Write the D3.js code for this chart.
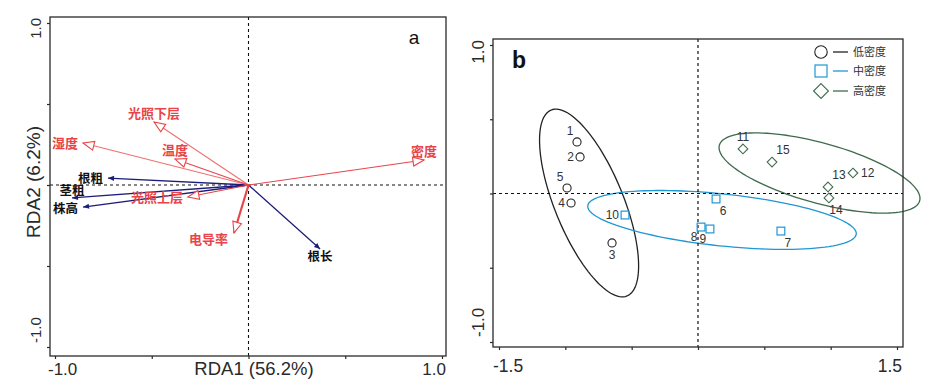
<!DOCTYPE html>
<html><head><meta charset="utf-8">
<script src="https://cdn.jsdelivr.net/npm/d3@7"></script>
<style>body{margin:0;background:#fff;} svg{display:block;}</style>
</head><body>
<script>
// ---------- Panel a data (RDA biplot) ----------
const envVars  = ["密度","光照下层","湿度","温度","光照上层","电导率"];
const envX     = [0.907,-0.488,-0.855,-0.380,-0.313,-0.075];
const envY     = [0.154, 0.389, 0.259, 0.160,-0.074,-0.296];
const envSide  = ["n","n","w","n","w","sw"];
const traitVars = ["根粗","茎粗","株高","根长"];
const traitX    = [-0.726,-0.912,-0.855,0.370];
const traitY    = [ 0.043,-0.080,-0.136,-0.395];
const traitSide = ["w","c","wl","s"];
const axisTicksA = [-1,-0.5,0,0.5,1];
const axisLabelsA = ["-1.0","1.0"];
const xTitleA = "RDA1 (56.2%)";
const yTitleA = "RDA2 (6.2%)";

// ---------- Panel b data (sample scores) ----------
const sampleIds   = ["1","2","3","4","5","6","7","8","9","10","11","12","13","14","15"];
const sampleX     = [-0.912,-0.889,-0.648,-0.957,-0.987,0.136,0.625,0.023,0.090,-0.550,0.339,1.168,0.980,0.987,0.558];
const sampleY     = [0.347,0.246,-0.333,-0.064,0.037,-0.037,-0.253,-0.226,-0.239,-0.145,0.300,0.138,0.044,-0.030,0.212];
const sampleGroup = [0,0,0,0,0,1,1,1,1,1,2,2,2,2,2];
const sampleSide  = ["nw","w","s","w","nw","se","se","sw","sw","w","n","e","ne","se","ne"];
const groupNames  = ["低密度","中密度","高密度"];
const ellipseCX = [-0.821,0.181,0.916];
const ellipseCY = [-0.064,-0.178,0.138];
const ellipseUX = [-0.286,1.012,0.755];
const ellipseUY = [0.626,-0.095,-0.187];
const ellipseVX = [0.240,-0.020,-0.060];
const ellipseVY = [0.0875,-0.174,-0.195];
const xTicksB = [-1.5,-1,-0.5,0,0.5,1,1.5];
const yTicksB = [-1,-0.5,0,0.5,1];
const xLabelsB = ["-1.5","1.5"];
const yLabelsB = ["-1.0","1.0"];

// ---------- styles ----------
const LAT = "'Liberation Sans', Arial, sans-serif";
const CJK = "'Noto Sans CJK SC', sans-serif";
const RED = "#e8454a", REDL = "#f07070", NAVY = "#1d1d7a", AX = "#2a2a2a";
const groupColors = ["#222222","#1f97d4","#3f6b4c"];

const svg = d3.select("body").append("svg").attr("width",936).attr("height",392);

// ================= PANEL A =================
const gA = svg.append("g");
const xA = d3.scaleLinear().domain([-1,1]).range([55,442]);
const yA = d3.scaleLinear().domain([-1,1]).range([347,23]);
const frA = {l:50, r:446, t:17, b:356};

gA.append("line").attr("x1",xA(0)).attr("x2",xA(0)).attr("y1",frA.t).attr("y2",frA.b)
  .attr("stroke","#111").attr("stroke-dasharray","3,3").attr("stroke-width",1.1);
gA.append("line").attr("x1",frA.l).attr("x2",frA.r).attr("y1",yA(0)).attr("y2",yA(0))
  .attr("stroke","#111").attr("stroke-dasharray","3,3").attr("stroke-width",1.1);

function arrowHead(x0,y0,x1,y1,len,hw){
  const dx=x1-x0, dy=y1-y0, L=Math.hypot(dx,dy), ux=dx/L, uy=dy/L;
  const bx=x1-ux*len, by=y1-uy*len;
  return `M${x1},${y1}L${bx-uy*hw},${by+ux*hw}L${bx+uy*hw},${by-ux*hw}Z`;
}
function labelPos(side,x,y,fs){
  const b = fs*0.36;
  switch(side){
    case "n":  return {x:x, y:y-4, a:"middle"};
    case "c":  return {x:x, y:y-2.5, a:"middle"};
    case "s":  return {x:x, y:y+12, a:"middle"};
    case "w":  return {x:x-5, y:y+b, a:"end"};
    case "wl": return {x:x-5, y:y+b+1.5, a:"end"};
    case "sw": return {x:x-6, y:y+11, a:"end"};
  }
}

traitVars.forEach((v,i)=>{
  const x1=xA(traitX[i]), y1=yA(traitY[i]), x0=xA(0), y0=yA(0);
  gA.append("line").attr("x1",x0).attr("y1",y0).attr("x2",x1).attr("y2",y1)
    .attr("stroke",NAVY).attr("stroke-width",1.3);
  gA.append("path").attr("d",arrowHead(x0,y0,x1,y1,6,2.6)).attr("fill",NAVY);
});
envVars.forEach((v,i)=>{
  const x1=xA(envX[i]), y1=yA(envY[i]), x0=xA(0), y0=yA(0);
  const w = v==="电导率" ? 2.2 : 1.1;
  gA.append("line").attr("x1",x0).attr("y1",y0).attr("x2",x1).attr("y2",y1)
    .attr("stroke", v==="光照下层"||v==="湿度" ? REDL : RED).attr("stroke-width",w);
  gA.append("path").attr("d",arrowHead(x0,y0,x1,y1,11,4.5))
    .attr("fill","#fff").attr("stroke",RED).attr("stroke-width",1.1);
});
envVars.forEach((v,i)=>{
  const p=labelPos(envSide[i],xA(envX[i]),yA(envY[i]),13);
  gA.append("text").attr("x",p.x).attr("y",p.y).attr("text-anchor",p.a)
    .attr("font-family",CJK).attr("font-weight","bold").attr("font-size",13)
    .attr("fill",RED).text(v);
});
traitVars.forEach((v,i)=>{
  const p=labelPos(traitSide[i],xA(traitX[i]),yA(traitY[i]),12.5);
  gA.append("text").attr("x",p.x).attr("y",p.y).attr("text-anchor",p.a)
    .attr("font-family",CJK).attr("font-weight","bold").attr("font-size",12.5)
    .attr("fill","#111").text(v);
});

gA.append("rect").attr("x",frA.l).attr("y",frA.t).attr("width",frA.r-frA.l).attr("height",frA.b-frA.t)
  .attr("fill","none").attr("stroke",AX).attr("stroke-width",1.3);
const axBA = gA.append("g").attr("transform",`translate(0,${frA.b})`)
  .call(d3.axisBottom(xA).tickValues(axisTicksA).tickSize(3).tickFormat(""));
axBA.select(".domain").remove();
axBA.selectAll("line").attr("stroke",AX).attr("stroke-width",1.2);
const axLA = gA.append("g").attr("transform",`translate(${frA.l},0)`)
  .call(d3.axisLeft(yA).tickValues(axisTicksA).tickSize(3).tickFormat(""));
axLA.select(".domain").remove();
axLA.selectAll("line").attr("stroke",AX).attr("stroke-width",1.2);

gA.append("text").attr("x",xA(-1)-7).attr("y",375).attr("text-anchor","start")
  .attr("font-family",LAT).attr("font-size",17).attr("fill",AX).text(axisLabelsA[0]);
gA.append("text").attr("x",xA(1)+4).attr("y",375).attr("text-anchor","end")
  .attr("font-family",LAT).attr("font-size",17).attr("fill",AX).text(axisLabelsA[1]);
gA.append("text").attr("x",254).attr("y",375).attr("text-anchor","middle")
  .attr("font-family",LAT).attr("font-size",18.5).attr("fill",AX).text(xTitleA);
gA.append("text").attr("transform",`translate(41,${yA(-1)-4}) rotate(-90)`).attr("text-anchor","start")
  .attr("font-family",LAT).attr("font-size",15).attr("fill",AX).text(axisLabelsA[0]);
gA.append("text").attr("transform",`translate(41,${yA(1)-5}) rotate(-90)`).attr("text-anchor","end")
  .attr("font-family",LAT).attr("font-size",15).attr("fill",AX).text(axisLabelsA[1]);
gA.append("text").attr("transform",`translate(40,182) rotate(-90)`).attr("text-anchor","middle")
  .attr("font-family",LAT).attr("font-size",19).attr("fill",AX).text(yTitleA);
gA.append("text").attr("x",414).attr("y",44).attr("text-anchor","middle")
  .attr("font-family",LAT).attr("font-size",19).attr("fill","#111").text("a");

// ================= PANEL B =================
const gB = svg.append("g");
const xB = d3.scaleLinear().domain([-1.5,1.5]).range([499,897]);
const yB = d3.scaleLinear().domain([-1,1]).range([342,45]);
const frB = {l:493, r:903, t:39, b:347};

const line = d3.line().x(d=>xB(d[0])).y(d=>yB(d[1])).curve(d3.curveLinearClosed);
groupNames.forEach((g,i)=>{
  const pts = d3.range(0,360,3).map(deg=>{
    const t=deg*Math.PI/180;
    return [ellipseCX[i]+ellipseUX[i]*Math.cos(t)+ellipseVX[i]*Math.sin(t),
            ellipseCY[i]+ellipseUY[i]*Math.cos(t)+ellipseVY[i]*Math.sin(t)];
  });
  gB.append("path").attr("d",line(pts)).attr("fill","none")
    .attr("stroke",groupColors[i]).attr("stroke-width",1.3);
});

gB.append("line").attr("x1",xB(0)).attr("x2",xB(0)).attr("y1",frB.t).attr("y2",frB.b)
  .attr("stroke","#111").attr("stroke-dasharray","3,3").attr("stroke-width",1.2);
gB.append("line").attr("x1",frB.l).attr("x2",frB.r).attr("y1",yB(0)).attr("y2",yB(0))
  .attr("stroke","#111").attr("stroke-dasharray","3,3").attr("stroke-width",1.2);

function symbol(g,grp,x,y,s,col){
  if(grp===0) return g.append("circle").attr("cx",x).attr("cy",y).attr("r",s*0.52)
    .attr("fill","none").attr("stroke",col).attr("stroke-width",1.1);
  if(grp===1) return g.append("rect").attr("x",x-s/2).attr("y",y-s/2).attr("width",s).attr("height",s)
    .attr("fill","none").attr("stroke",col).attr("stroke-width",1.2);
  const h=s*0.62;
  return g.append("path").attr("d",`M${x},${y-h}L${x+h},${y}L${x},${y+h}L${x-h},${y}Z`)
    .attr("fill","none").attr("stroke",col).attr("stroke-width",1.1);
}
const offB = {nw:[-7,-11,"middle"], w:[-6,0,"end"], s:[0,12,"middle"], se:[7,12,"middle"],
              sw:[-7,10,"middle"], n:[0,-12,"middle"], ne:[11,-12,"middle"], e:[8,0,"start"]};
sampleIds.forEach((id,i)=>{
  const x=xB(sampleX[i]), y=yB(sampleY[i]), g=sampleGroup[i];
  symbol(gB,g,x,y,7.8,groupColors[g]);
  const o=offB[sampleSide[i]];
  gB.append("text").attr("x",x+o[0]).attr("y",y+o[1]+4.3).attr("text-anchor",o[2])
    .attr("font-family",LAT).attr("font-size",12).attr("fill","#333").text(id);
});

groupNames.forEach((g,i)=>{
  const ly = [52,71,91][i];
  symbol(gB,i,821,ly,12,groupColors[i]);
  gB.append("line").attr("x1",833).attr("x2",848).attr("y1",ly).attr("y2",ly)
    .attr("stroke",groupColors[i]).attr("stroke-width",1.3);
  gB.append("text").attr("x",853).attr("y",ly+4).attr("font-family",CJK).attr("font-size",11)
    .attr("fill","#333").text(g);
});

gB.append("rect").attr("x",frB.l).attr("y",frB.t).attr("width",frB.r-frB.l).attr("height",frB.b-frB.t)
  .attr("fill","none").attr("stroke",AX).attr("stroke-width",1.3);
const axBB = gB.append("g").attr("transform",`translate(0,${frB.b})`)
  .call(d3.axisBottom(xB).tickValues(xTicksB).tickSize(3).tickFormat(""));
axBB.select(".domain").remove();
axBB.selectAll("line").attr("stroke",AX).attr("stroke-width",1.2);
const axLB = gB.append("g").attr("transform",`translate(${frB.l},0)`)
  .call(d3.axisLeft(yB).tickValues(yTicksB).tickSize(3).tickFormat(""));
axLB.select(".domain").remove();
axLB.selectAll("line").attr("stroke",AX).attr("stroke-width",1.2);

gB.append("text").attr("x",xB(-1.5)-6).attr("y",372).attr("text-anchor","start")
  .attr("font-family",LAT).attr("font-size",17.5).attr("fill",AX).text(xLabelsB[0]);
gB.append("text").attr("x",xB(1.5)+5).attr("y",372).attr("text-anchor","end")
  .attr("font-family",LAT).attr("font-size",17.5).attr("fill",AX).text(xLabelsB[1]);
gB.append("text").attr("transform",`translate(484,${yB(-1)-5}) rotate(-90)`).attr("text-anchor","start")
  .attr("font-family",LAT).attr("font-size",17).attr("fill",AX).text(yLabelsB[0]);
gB.append("text").attr("transform",`translate(484,${yB(1)-5}) rotate(-90)`).attr("text-anchor","end")
  .attr("font-family",LAT).attr("font-size",17).attr("fill",AX).text(yLabelsB[1]);
gB.append("text").attr("x",512).attr("y",68).attr("font-family",LAT).attr("font-weight","bold")
  .attr("font-size",23).attr("fill","#111").text("b");
</script>
</body></html>
